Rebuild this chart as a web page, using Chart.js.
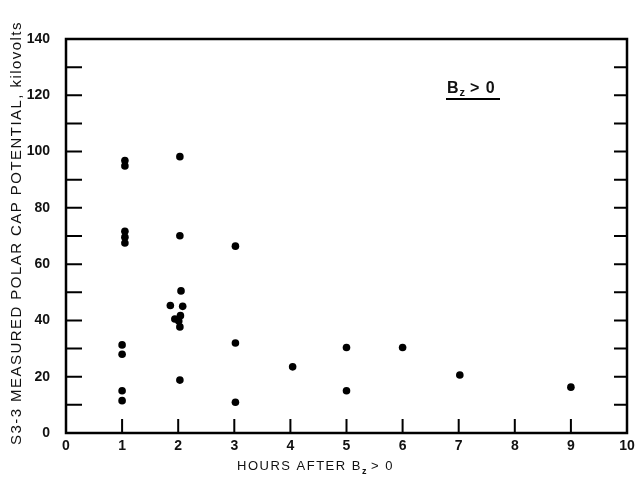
<!DOCTYPE html>
<html>
<head>
<meta charset="utf-8">
<script src="https://cdn.jsdelivr.net/npm/chart.js@4.4.0/dist/chart.umd.min.js"></script>
<style>
  html, body { margin: 0; padding: 0; background: #fff; }
  #wrap { width: 635px; height: 481px; }
</style>
</head>
<body>
<div id="wrap"><canvas id="scatterChart" width="635" height="481"></canvas></div>
<script>
// values
const hours = [1.05, 1.05, 1.05, 1.05, 1.05, 1, 1, 1, 1,
  2.03, 2.03, 2.05, 1.86, 2.08, 1.94, 2.04, 2.01, 2.03, 2.03,
  3.02, 3.02, 3.02, 4.04, 5, 5, 6, 7.02, 9];
const potential = [96.8, 94.9, 71.7, 69.6, 67.5, 31.3, 28.0, 15.0, 11.5,
  98.2, 70.1, 50.5, 45.3, 45.0, 40.5, 41.7, 39.8, 37.7, 18.8,
  66.4, 32.0, 10.9, 23.5, 30.4, 15.0, 30.4, 20.6, 16.3];
const xTicks = [0, 1, 2, 3, 4, 5, 6, 7, 8, 9, 10];
const yTicks = [0, 20, 40, 60, 80, 100, 120, 140];
const yMinorTicks = [10, 30, 50, 70, 90, 110, 130];

const tickFont = { family: "Liberation Sans", size: 14, weight: "bold" };

// frame, inward ticks and the lettering
const framePlugin = {
  id: "frame",
  afterDraw(chart) {
    const { ctx, chartArea: a, scales } = chart;
    const x = scales.x, y = scales.y;
    ctx.save();
    ctx.strokeStyle = "#000";
    ctx.lineWidth = 2.5;
    ctx.strokeRect(a.left, a.top, a.right - a.left, a.bottom - a.top);

    ctx.lineWidth = 2;
    ctx.beginPath();
    yTicks.concat(yMinorTicks).forEach((v) => {
      if (v === 0 || v === 140) return;
      const py = y.getPixelForValue(v);
      ctx.moveTo(a.left, py);
      ctx.lineTo(a.left + 16, py);
      ctx.moveTo(a.right, py);
      ctx.lineTo(a.right - 13, py);
    });
    xTicks.forEach((v) => {
      if (v === 0 || v === 10) return;
      const px = x.getPixelForValue(v);
      ctx.moveTo(px, a.bottom);
      ctx.lineTo(px, a.bottom - 14);
    });
    ctx.stroke();

    ctx.fillStyle = "#111";
    // y title, drawn upward from its bottom end
    ctx.save();
    ctx.translate(21, 445);
    ctx.rotate(-Math.PI / 2);
    ctx.font = "15px 'Liberation Sans'";
    ctx.letterSpacing = "1.45px";
    ctx.textAlign = "left";
    ctx.textBaseline = "alphabetic";
    ctx.fillText("S3-3 MEASURED POLAR CAP POTENTIAL, kilovolts", 0, 0);
    ctx.restore();

    // x title with subscript
    ctx.textBaseline = "alphabetic";
    ctx.textAlign = "left";
    ctx.font = "13px 'Liberation Sans'";
    ctx.letterSpacing = "1.5px";
    let tx = 237;
    const ty = 470;
    ctx.fillText("HOURS AFTER B", tx, ty);
    tx += ctx.measureText("HOURS AFTER B").width;
    ctx.font = "bold 9px 'Liberation Sans'";
    ctx.fillText("z", tx, ty + 4);
    tx += ctx.measureText("z").width + 3;
    ctx.font = "13px 'Liberation Sans'";
    ctx.fillText(">\u00a00", tx, ty);

    // annotation
    ctx.font = "bold 16px 'Liberation Sans'";
    ctx.letterSpacing = "1px";
    let ax = 447;
    const ay = 93;
    ctx.fillText("B", ax, ay);
    ax += ctx.measureText("B").width;
    ctx.font = "bold 11px 'Liberation Sans'";
    ctx.fillText("z", ax, ay + 3);
    ax += ctx.measureText("z").width + 4;
    ctx.font = "bold 16px 'Liberation Sans'";
    ctx.fillText("> 0", ax, ay);
    ctx.lineWidth = 2;
    ctx.beginPath();
    ctx.moveTo(446, 99);
    ctx.lineTo(500, 99);
    ctx.stroke();
    ctx.restore();
  },
};

new Chart(document.getElementById("scatterChart"), {
  type: "scatter",
  data: {
    datasets: [
      {
        data: hours.map((h, i) => ({ x: h, y: potential[i] })),
        backgroundColor: "#000",
        borderWidth: 0,
        pointRadius: 3.8,
      },
    ],
  },
  options: {
    responsive: false,
    animation: false,
    layout: { padding: { top: 39, right: 8, left: 0, bottom: 0 } },
    plugins: { legend: { display: false }, tooltip: { enabled: false } },
    scales: {
      x: {
        type: "linear",
        min: 0,
        max: 10,
        afterBuildTicks: (s) => { s.ticks = xTicks.map((v) => ({ value: v })); },
        afterFit: (s) => { s.height = 48; s.paddingLeft = 0; s.paddingRight = 0; },
        grid: { display: false },
        border: { display: false },
        ticks: { color: "#111", font: tickFont, padding: -3, maxRotation: 0, autoSkip: false },
      },
      y: {
        min: 0,
        max: 140,
        afterBuildTicks: (s) => { s.ticks = yTicks.map((v) => ({ value: v })); },
        afterFit: (s) => { s.width = 66; s.paddingTop = 0; s.paddingBottom = 0; },
        grid: { display: false },
        border: { display: false },
        ticks: { color: "#111", font: tickFont, padding: 8 },
      },
    },
  },
  plugins: [framePlugin],
});
</script>
</body>
</html>
